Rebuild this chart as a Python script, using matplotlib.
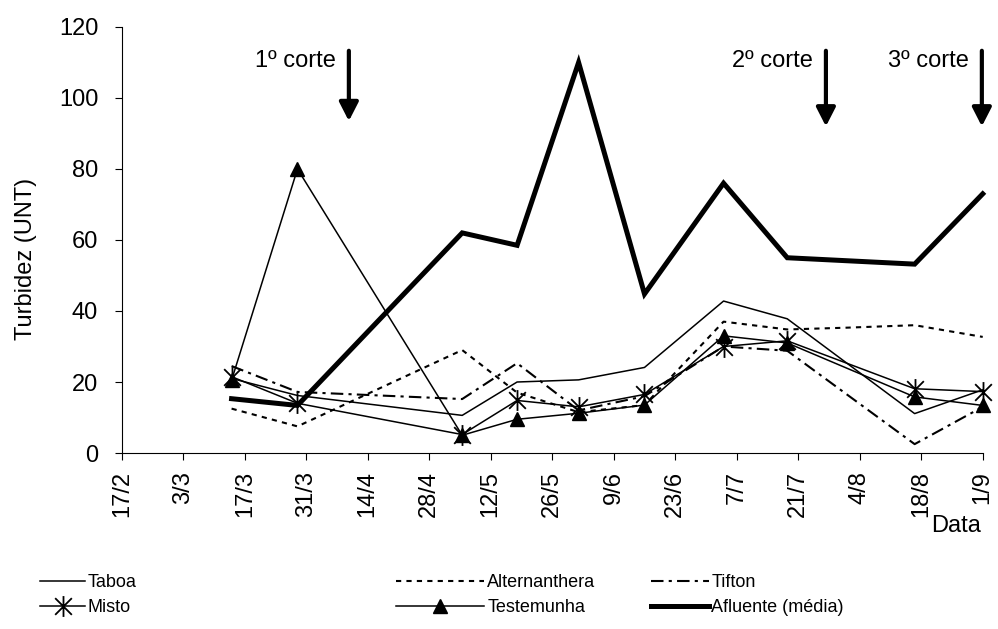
import matplotlib
matplotlib.use("Agg")
import matplotlib.pyplot as plt
from matplotlib.path import Path
import numpy as np

# Datos (días contados desde 17/2)
dias = [25, 40, 77.5, 90, 104, 119, 137, 151.5, 180.5, 196]
taboa = [21, 16.2, 10.6, 20, 20.6, 24.1, 42.8, 37.8, 11.1, 17.8]
dias_alt = [25, 40, 77.5, 90, 104, 119, 137, 151.5, 165, 180.5, 196]
alternanthera = [12.5, 7.5, 29, 17, 11.5, 13.5, 37, 34.8, 35.3, 36, 32.7]
tifton = [24.5, 17.2, 15.2, 25.3, 12, 16, 30, 28.8, 2.5, 13]
misto = [21.5, 14, 5.2, 14.8, 13, 16.5, 30, 31.6, 18.1, 17.3]
testemunha = [20.5, 80, 5, 9.5, 11.2, 13.5, 33, 31, 15.8, 13.4]
afluente = [15.3, 13.4, 62, 58.5, 110, 44.8, 76, 55, 53.2, 73]

# Marcas del eje x
pos_ticks = [0, 14, 28, 42, 56, 70, 84, 98, 112, 126, 140, 154, 168, 182, 196]
etiquetas_x = ['17/2', '3/3', '17/3', '31/3', '14/4', '28/4', '12/5', '26/5',
               '9/6', '23/6', '7/7', '21/7', '4/8', '18/8', '1/9']

# Cortes
cortes = ['1º corte', '2º corte', '3º corte']
dia_corte = [51.7, 160.3, 195.8]
punta_corte = [93.5, 92, 92]

plt.rcParams['font.family'] = ['Liberation Sans', 'DejaVu Sans']
fs = 17   # tamaño de letra de ejes
fs_ley = 13   # tamaño de letra de la leyenda

# Marcador tipo asterisco de Excel (cruz + barra vertical)
estrella = Path([(0, -1), (0, 1), (-0.8, -0.8), (0.8, 0.8), (-0.8, 0.8), (0.8, -0.8)],
                [Path.MOVETO, Path.LINETO] * 3)

fig = plt.figure(figsize=(9.98, 6.29), dpi=100)
ax = fig.add_axes([0.122, 0.2798, 0.8627, 0.6773])

l_taboa, = ax.plot(dias, taboa, color='k', lw=1.1, label='Taboa', clip_on=False)
l_alt, = ax.plot(dias_alt, alternanthera, color='k', lw=1.5, ls=(0, (2.5, 2.5)),
                 label='Alternanthera', clip_on=False)
l_tif, = ax.plot(dias, tifton, color='k', lw=1.5, ls=(0, (6, 2.5, 1.5, 2.5)),
                 label='Tifton', clip_on=False)
l_misto, = ax.plot(dias, misto, color='k', lw=1.1, marker=estrella, ms=15, mew=1.3,
                   label='Misto', clip_on=False)
l_test, = ax.plot(dias, testemunha, color='k', lw=1.1, marker='^', ms=9.5,
                  label='Testemunha', clip_on=False)
l_afl, = ax.plot(dias, afluente, color='k', lw=3.6, label='Afluente (média)',
                 clip_on=False, solid_joinstyle='miter')

# Flechas de los cortes
for txt, xc, yp in zip(cortes, dia_corte, punta_corte):
    ax.annotate('', xy=(xc, yp), xytext=(xc, 113.3),
                arrowprops=dict(arrowstyle='-|>,head_length=0.45,head_width=0.23',
                                lw=3, color='k', mutation_scale=25, shrinkA=0, shrinkB=0),
                annotation_clip=False)
    ax.text(xc - 3, 110.5, txt, ha='right', va='center', fontsize=fs)

ax.set_xlim(0, 196)
ax.set_ylim(0, 120)
ax.set_xticks(pos_ticks)
ax.set_xticklabels(etiquetas_x, rotation=90, fontsize=fs)
ax.set_yticks(range(0, 121, 20))
ax.tick_params(axis='y', labelsize=fs, direction='out', length=5, pad=12)
ax.tick_params(axis='x', direction='out', length=5, pad=8)
for s in ['top', 'right']:
    ax.spines[s].set_visible(False)

ax.set_ylabel('Turbidez (UNT)', fontsize=fs)
ax.yaxis.set_label_coords(-0.098, 0.455)
fig.text(981 / 998, 1 - 526 / 629, 'Data', ha='right', va='center', fontsize=fs)

# Leyenda en tres columnas separadas (inicio x, largo de la línea)
columnas = [([l_taboa, l_misto], 40, 2.5), ([l_alt, l_test], 396, 4.9),
            ([l_tif, l_afl], 651, 3.2)]
for hs, x0, largo in columnas:
    fig.legend(handles=hs, loc='center left', bbox_to_anchor=(x0 / 998, 1 - 595 / 629),
               frameon=False, fontsize=fs_ley, handlelength=largo, handletextpad=0.15,
               labelspacing=0.45, borderpad=0, borderaxespad=0, numpoints=1)

fig.savefig('out.png', dpi=100)
